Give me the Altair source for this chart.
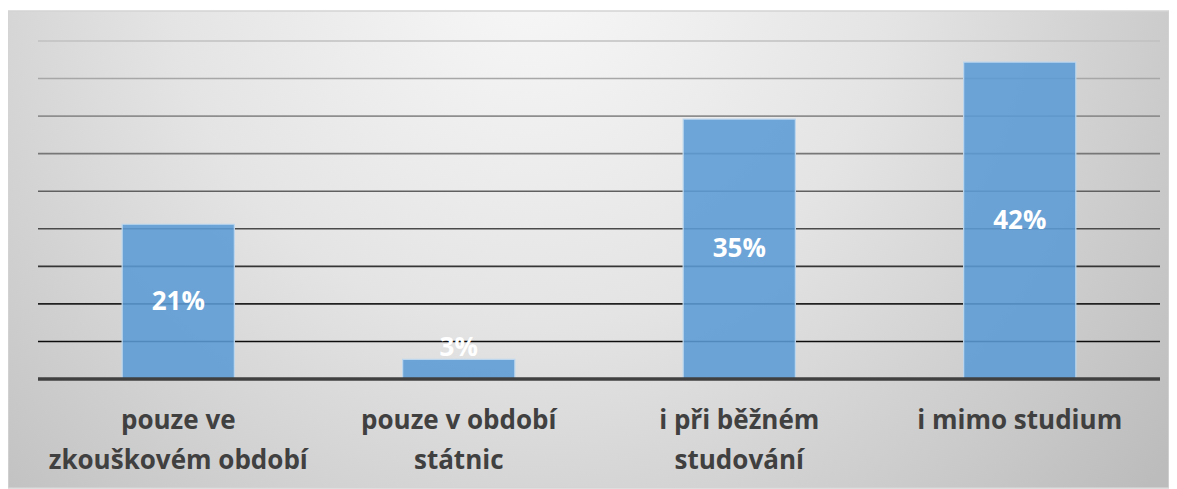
import altair as alt
import pandas as pd

categories = ["pouze ve\nzkouškovém období", "pouze v období\nstátnic", "i při běžném\nstudování", "i mimo studium"]
values = [20.6, 2.6, 34.6, 42.2]
labels = ["21%", "3%", "35%", "42%"]
grid_values = [5, 10, 15, 20, 25, 30, 35, 40, 45]
base_value = [0]

W, H = 1122, 338
FONT = "Open Sans"

df = pd.DataFrame({"cat": categories, "v": values, "lab": labels})
gdf = pd.DataFrame({"g": grid_values})
bdf = pd.DataFrame({"b": base_value})

xscale = alt.Scale(domain=categories, paddingInner=0.6, paddingOuter=0.3)
yscale = alt.Scale(domain=[0, 45], nice=False)

background = alt.Chart(bdf).mark_rect(
    fill=alt.RadialGradient(
        gradient="radial",
        x1=0.45, y1=0.25, r1=0.0,
        x2=0.45, y2=0.25, r2=0.7,
        stops=[
            alt.GradientStop(offset=0.0, color="#f8f8f8"),
            alt.GradientStop(offset=0.45, color="#e4e4e4"),
            alt.GradientStop(offset=1.0, color="#bcbcbc"),
        ],
    ),
    stroke="#d4d4d4",
    strokeWidth=1.5,
).encode(
    x=alt.value(-30), x2=alt.value(W + 9),
    y=alt.value(-30), y2=alt.value(H + 109),
)

grid = alt.Chart(gdf).mark_rule(strokeWidth=1.6).encode(
    y=alt.Y("g:Q", scale=yscale, axis=None),
    x=alt.value(0), x2=alt.value(W),
    color=alt.Color("g:Q", scale=alt.Scale(domain=[5, 45], range=["#0d0d0d", "#c0c0c0"]), legend=None),
)

bars = alt.Chart(df).mark_bar(
    fill="#5B9BD5", fillOpacity=0.88, stroke="#BDD7EE", strokeWidth=1.2
).encode(
    x=alt.X("cat:N", scale=xscale, sort=categories, axis=None),
    y=alt.Y("v:Q", scale=yscale, axis=None),
)

baseline = alt.Chart(bdf).mark_rule(color="#404040", strokeWidth=3.5).encode(
    y=alt.Y("b:Q", scale=yscale, axis=None), x=alt.value(0), x2=alt.value(W),
)

text = alt.Chart(df).transform_calculate(
    pos="datum.v < 5 ? datum.v + 1.5 : datum.v / 2"
).mark_text(
    font=FONT, fontSize=26, fontWeight="bold", color="white", baseline="middle", align="center"
).encode(
    x=alt.X("cat:N", scale=xscale, sort=categories, axis=None),
    y=alt.Y("pos:Q", scale=yscale, axis=None),
    text="lab:N",
)

catlabels = alt.Chart(df).mark_text(
    font=FONT, fontSize=26, fontWeight="bold", color="#404040",
    baseline="top", align="center", lineBreak="\n", lineHeight=40,
).encode(
    x=alt.X("cat:N", scale=xscale, sort=categories, axis=None),
    y=alt.value(H + 29),
    text="cat:N",
)

chart = alt.layer(background, grid, bars, baseline, text, catlabels).properties(
    width=W, height=H,
    autosize=alt.AutoSizeParams(type="none"),
    padding={"left": 30, "top": 33, "right": 9, "bottom": 110},
).configure_view(stroke=None).configure(background="white")

chart.save("out.html", embed_options={"renderer": "svg", "actions": False})
